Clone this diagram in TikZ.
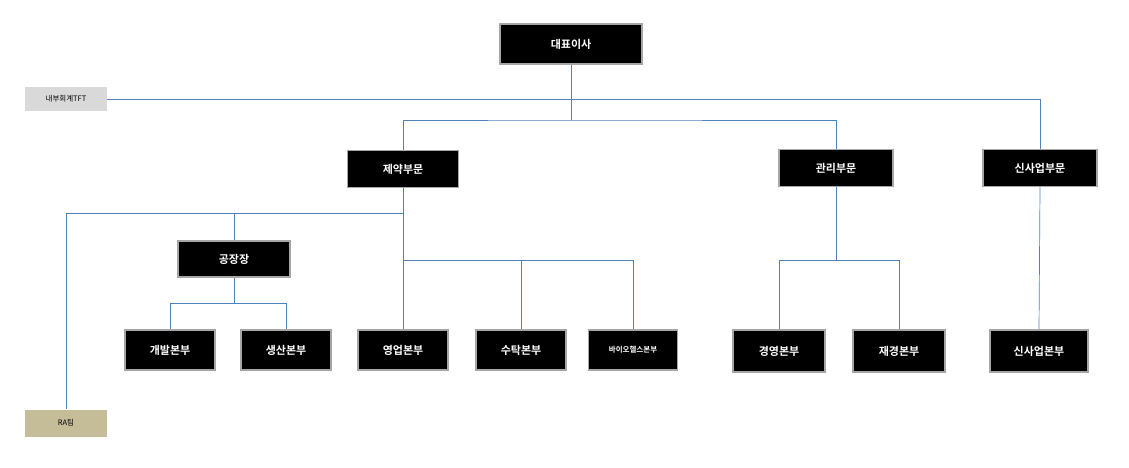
\documentclass[tikz,border=0pt]{standalone}
\usepackage{fontspec}
\newfontfamily\kr{Noto Sans CJK KR}[BoldFont={Noto Sans CJK KR Bold}]
\begin{document}
\begin{tikzpicture}[x=1pt,y=-1pt,
 bx/.style={draw=gray!70,line width=1.2pt,fill=black,text=white,font=\kr\bfseries\fontsize{11}{12}\selectfont,minimum height=40pt,inner sep=2pt},
 side/.style={font=\kr\fontsize{7.5}{8}\selectfont,minimum width=82pt,minimum height=24pt,inner sep=1pt},
 ln/.style={draw=blue!45!black!60!cyan!80!white,line width=0.7pt}]
\useasboundingbox (0,0) rectangle (1129,468);
\tikzset{ln/.style={draw={rgb,255:red,79;green,129;blue,189},line width=0.7pt}}
\node[bx,minimum width=142pt] (ceo) at (571,44) {대표이사};
\node[side,fill={rgb,255:red,217;green,217;blue,217}] (tft) at (66,99) {내부회계TFT};
\node[side,fill={rgb,255:red,196;green,189;blue,151},minimum height=27pt] (ra) at (66,423) {RA팀};
\node[bx,minimum width=111pt,minimum height=37pt] (pharma) at (403,169) {제약부문};
\node[bx,minimum width=114pt,minimum height=37pt] (mgmt) at (836,168) {관리부문};
\node[bx,minimum width=114pt,minimum height=37pt] (new) at (1040,168) {신사업부문};
\node[bx,minimum width=112pt,minimum height=36pt] (plant) at (234,259) {공장장};
\node[bx,minimum width=90pt] (dev) at (170,350) {개발본부};
\node[bx,minimum width=90pt] (prod) at (286,350) {생산본부};
\node[bx,minimum width=90pt] (sales) at (403,350) {영업본부};
\node[bx,minimum width=90pt] (cmo) at (521,350) {수탁본부};
\node[bx,minimum width=89pt,font=\kr\bfseries\fontsize{7.5}{8}\selectfont] (bio) at (633,350) {바이오헬스본부};
\node[bx,minimum width=92pt,minimum height=42pt] (biz) at (779,351) {경영본부};
\node[bx,minimum width=92pt,minimum height=42pt] (fin) at (899,351) {재경본부};
\node[bx,minimum width=98pt,minimum height=42pt] (newhq) at (1039,351) {신사업본부};
\coordinate (j1) at (571,120);
\draw[ln] (ceo.south) -- (j1);
\draw[ln] (pharma.north) |- (j1) -| (mgmt.north);
\draw[ln] (tft.east) -- (1040,99) -- (new.north);
\draw[ln] (pharma.south) -- (403,260) -| (bio.north);
\draw[ln] (403,260) -- (sales.north);
\draw[ln] (521,260) -- (cmo.north);
\draw[ln] (403,213) -| (plant.north);
\draw[ln] (403,213) -| (ra.north);
\draw[ln] (plant.south) -- (234,303) -| (dev.north);
\draw[ln] (234,303) -| (prod.north);
\draw[ln] (mgmt.south) -- (836,260) -| (biz.north);
\draw[ln] (836,260) -| (fin.north);
\draw[ln] (new.south) -- (newhq.north);
\end{tikzpicture}
\end{document}
